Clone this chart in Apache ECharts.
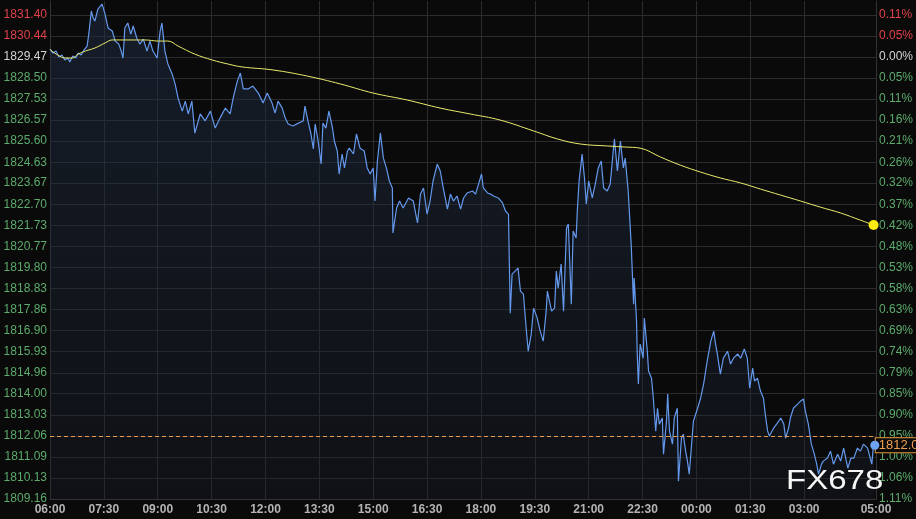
<!DOCTYPE html>
<html><head><meta charset="utf-8">
<script src="https://cdn.jsdelivr.net/npm/echarts@6/dist/echarts.min.js"></script>
<style>html,body{margin:0;padding:0;background:#0a0a0a;}#c{width:916px;height:519px;}</style>
</head><body><div id="c"></div>
<script>
const basePrice = 1829.47;
const lastPriceLine = 1812.04;
const yMin = 1809.16;
const yMax = 1832.04;
const yTickLabels = ['1809.16','1810.13','1811.09','1812.06','1813.03','1814.00','1814.96','1815.93','1816.90','1817.86','1818.83','1819.80','1820.77','1821.73','1822.70','1823.67','1824.63','1825.60','1826.57','1827.53','1828.50','1829.47','1830.44','1831.40'];
const pctTickLabels = ['1.11%','1.06%','1.00%','0.95%','0.90%','0.85%','0.79%','0.74%','0.69%','0.63%','0.58%','0.53%','0.48%','0.42%','0.37%','0.32%','0.26%','0.21%','0.16%','0.11%','0.05%','0.00%','0.05%','0.11%'];
const xTickLabels = ['06:00','07:30','09:00','10:30','12:00','13:30','15:00','16:30','18:00','19:30','21:00','22:30','00:00','01:30','03:00','05:00'];

const blueMinutes = [0,5,10,15,20,25,30,33,38,43,47,52,57,62,65,69,72,75,80,87,92,97,104,109,115,119,122,125,130,135,139,145,150,156,162,167,172,179,184,187,189,192,197,204,209,214,221,226,231,237,242,251,259,268,276,284,293,301,306,313,318,323,331,339,348,356,363,371,376,381,388,393,398,406,415,423,426,431,436,440,443,448,453,456,461,466,472,475,480,483,488,492,497,500,507,512,518,525,530,535,540,543,547,552,557,562,567,572,573,579,584,590,599,607,614,619,624,630,635,640,647,652,657,664,669,674,680,686,691,697,706,711,716,721,724,731,736,741,749,756,761,766,767,769,772,777,782,786,791,796,799,804,808,814,819,824,829,831,838,843,846,849,854,858,863,866,871,874,879,881,884,889,893,896,900,906,911,916,921,925,931,936,941,943,948,953,958,961,966,971,975,976,980,981,983,986,991,993,998,1000,1005,1008,1012,1015,1018,1023,1025,1030,1032,1035,1040,1043,1048,1050,1055,1058,1062,1065,1068,1072,1075,1082,1087,1092,1098,1104,1109,1112,1115,1120,1125,1132,1137,1142,1149,1154,1160,1165,1169,1174,1177,1182,1187,1192,1195,1199,1202,1209,1214,1221,1226,1229,1234,1237,1242,1249,1254,1259,1262,1267,1272,1277,1281,1284,1289,1292,1299,1304,1309,1316,1321,1326,1333,1338,1343,1349,1354,1359,1366,1373,1376,1378];
const bluePrices = [
1829.83,1829.65,1829.74,1829.47,1829.56,1829.33,1829.42,1829.24,1829.51,1829.42,
1829.65,1829.56,1829.79,1829.97,1830.57,1831.58,1831.26,1831.12,1831.67,1831.90,
1831.44,1830.80,1830.66,1830.20,1830.06,1829.74,1829.42,1830.80,1831.03,1830.52,
1830.89,1830.34,1830.06,1830.29,1829.74,1830.20,1829.74,1829.42,1830.66,1831.03,
1830.52,1829.74,1829.15,1828.69,1828.23,1827.58,1826.98,1827.44,1826.85,1827.44,
1825.97,1826.85,1826.53,1826.98,1826.20,1826.66,1827.12,1826.85,1827.58,1828.36,
1828.73,1828.00,1828.00,1828.13,1827.81,1827.35,1827.81,1827.35,1826.89,1827.44,
1827.12,1826.66,1826.39,1826.30,1826.43,1826.53,1827.21,1826.53,1825.93,1825.24,
1826.39,1825.61,1824.55,1826.43,1826.20,1826.98,1826.20,1825.61,1825.15,1824.09,
1825.01,1824.37,1825.15,1825.28,1825.01,1825.93,1825.28,1825.15,1824.37,1824.09,
1824.37,1822.85,1824.69,1825.97,1824.82,1824.37,1823.77,1823.45,1821.38,1822.53,
1822.85,1822.53,1822.99,1822.85,1821.84,1823.17,1823.45,1822.25,1822.85,1823.77,
1824.55,1824.23,1823.45,1822.48,1823.17,1822.85,1823.08,1822.48,1822.99,1823.22,
1823.31,1823.17,1823.63,1824.09,1823.45,1823.22,1823.17,1823.08,1822.99,1822.76,
1822.39,1822.25,1820.69,1817.70,1819.49,1819.63,1819.77,1818.71,1818.57,1816.87,
1815.95,1816.74,1817.93,1817.47,1816.87,1816.41,1817.79,1818.71,1817.79,1817.93,
1819.63,1818.85,1819.95,1817.79,1821.61,1821.79,1818.11,1821.47,1821.15,1822.39,
1823.77,1825.01,1823.91,1822.71,1823.77,1822.99,1823.63,1824.37,1824.69,1823.45,
1823.31,1823.63,1825.15,1825.70,1824.23,1825.61,1824.37,1824.82,1823.31,1820.87,
1818.11,1819.31,1817.33,1815.95,1814.44,1816.28,1815.63,1817.47,1815.95,1815.04,
1814.71,1813.79,1812.28,1813.33,1812.60,1812.88,1811.22,1812.74,1813.98,1812.28,
1811.68,1812.88,1813.33,1809.98,1811.96,1812.14,1811.36,1810.90,1810.30,1811.68,
1812.74,1813.33,1813.79,1814.44,1815.49,1816.41,1816.87,1816.28,1815.82,1814.90,
1815.63,1815.95,1815.36,1815.63,1815.82,1815.63,1816.05,1815.63,1814.25,1815.17,
1814.58,1814.71,1814.12,1813.79,1813.06,1812.28,1812.05,1812.42,1812.60,1812.88,
1812.60,1811.96,1812.42,1812.88,1813.33,1813.52,1813.66,1813.75,1813.20,1812.60,
1811.68,1811.22,1810.76,1810.30,1810.76,1810.90,1811.04,1811.36,1810.76,1811.22,
1810.90,1811.50,1810.58,1811.04,1811.04,1811.50,1811.36,1811.68,1811.50,1810.76,
1811.68,1811.63];

const maMinutes = [0,3,13,25,37,47,59,75,92,104,130,159,181,197,214,242,271,298,321,373,430,485,540,597,652,702,752,808,848,886,931,961,986,1020,1053,1087,1120,1154,1187,1221,1254,1287,1321,1354,1376];
const maPrices = [1829.83,1829.74,1829.56,1829.42,1829.42,1829.60,1829.74,1829.88,1830.11,1830.25,1830.25,1830.25,1830.20,1830.20,1829.97,1829.60,1829.33,1829.14,1829.01,1828.87,1828.59,1828.23,1827.81,1827.49,1827.12,1826.85,1826.57,1826.07,1825.70,1825.47,1825.38,1825.33,1825.28,1824.87,1824.50,1824.18,1823.91,1823.68,1823.40,1823.12,1822.85,1822.57,1822.30,1821.97,1821.75];

const FONT = '"Liberation Sans", Arial, sans-serif';
const yTickValues = yTickLabels.map(Number);
// minutes after 06:00; 05:00 belongs to the next day
const xTickMinutes = xTickLabels.map(function (s) {
  const p = s.split(':');
  return ((+p[0]) * 60 + (+p[1]) - 360 + 1440) % 1440;
});

function labelColor(v) {
  if (Math.abs(v - basePrice) < 0.005) return '#d4d4d4';
  return v > basePrice ? '#e0434b' : '#5cab6c';
}
function nearestIdx(v) {
  let best = 0, bd = 1e9;
  yTickValues.forEach(function (t, i) { const d = Math.abs(t - v); if (d < bd) { bd = d; best = i; } });
  return bd < 0.02 ? best : -1;
}

const blueData = blueMinutes.map(function (m, i) { return [m, bluePrices[i]]; });
const maData = maMinutes.map(function (m, i) { return [m, maPrices[i]]; });
const lastBlue = blueData[blueData.length - 1];
const lastMa = maData[maData.length - 1];

const chart = echarts.init(document.getElementById('c'), null, { renderer: 'canvas' });
chart.setOption({
  animation: false,
  backgroundColor: '#0a0a0a',
  grid: { left: 50, right: 40, top: 1, bottom: 20, containLabel: false },
  xAxis: {
    type: 'value', min: 0, max: 1380,
    axisLine: { show: true, lineStyle: { color: '#333333' } },
    axisTick: { show: false, customValues: xTickMinutes },
    axisLabel: {
      customValues: xTickMinutes,
      formatter: function (v) { const i = xTickMinutes.indexOf(v); return i >= 0 ? xTickLabels[i] : ''; },
      color: '#b4b4b4', fontWeight: 'bold', fontSize: 12, fontFamily: FONT, margin: 5
    },
    splitLine: { show: true, lineStyle: { color: '#2c2c2c', width: 1 } }
  },
  yAxis: [{
    type: 'value', min: yMin, max: yMax, position: 'left',
    axisLine: { show: true, lineStyle: { color: '#333333' } },
    axisTick: { show: false, customValues: yTickValues },
    axisLabel: {
      customValues: yTickValues,
      formatter: function (v) { const i = nearestIdx(v); return i >= 0 ? yTickLabels[i] : ''; },
      color: function (v) { return labelColor(v); },
      fontSize: 12, fontFamily: FONT, margin: 3
    },
    splitLine: { show: true, lineStyle: { color: '#2c2c2c', width: 1 } }
  }, {
    type: 'value', min: yMin, max: yMax, position: 'right',
    axisLine: { show: true, lineStyle: { color: '#333333' } },
    axisTick: { show: false, customValues: yTickValues },
    axisLabel: {
      customValues: yTickValues,
      formatter: function (v) { const i = nearestIdx(v); return i >= 0 ? pctTickLabels[i] : ''; },
      color: function (v) { return labelColor(v); },
      fontSize: 12, fontFamily: FONT, margin: 3
    },
    splitLine: { show: false }
  }],
  series: [{
    type: 'line', data: blueData, showSymbol: false, z: 3,
    lineStyle: { color: '#6498ec', width: 1.2 },
    areaStyle: {
      color: new echarts.graphic.LinearGradient(0, 0, 0, 1, [
        { offset: 0, color: 'rgba(32,46,70,0.75)' },
        { offset: 1, color: 'rgba(25,32,45,0.45)' }
      ])
    },
    markLine: {
      symbol: 'none', silent: true, animation: false,
      data: [{ yAxis: lastPriceLine }],
      lineStyle: { color: '#e89a4e', type: [4, 3], width: 1 },
      label: { show: false }
    },
    markPoint: {
      symbol: 'circle', symbolSize: 9, silent: true,
      itemStyle: { color: '#6ea3f3' },
      label: { show: false },
      data: [{ coord: lastBlue }]
    },
    endLabel: {
      show: true, distance: 1,
      formatter: function () { return lastPriceLine.toFixed(2); },
      color: '#f0a050', fontSize: 13, fontFamily: FONT,
      backgroundColor: '#0a0a0a', borderColor: '#e8953a', borderWidth: 1,
      padding: [1, 3, 0, 3]
    }
  }, {
    type: 'line', data: maData, showSymbol: false, smooth: 0.4, z: 4,
    lineStyle: { color: '#eaea6c', width: 1 },
    markPoint: {
      symbol: 'circle', symbolSize: 10, silent: true,
      itemStyle: { color: '#ffee10' },
      label: { show: false },
      data: [{ coord: lastMa }]
    }
  }],
  graphic: [{
    type: 'text', left: 786, top: 467, z: 100, silent: true,
    scaleX: 1.18,
    style: { text: 'FX678', fill: '#f6f6f6', font: '28px "Liberation Sans", Arial, sans-serif' }
  }]
});
</script>
</body></html>
